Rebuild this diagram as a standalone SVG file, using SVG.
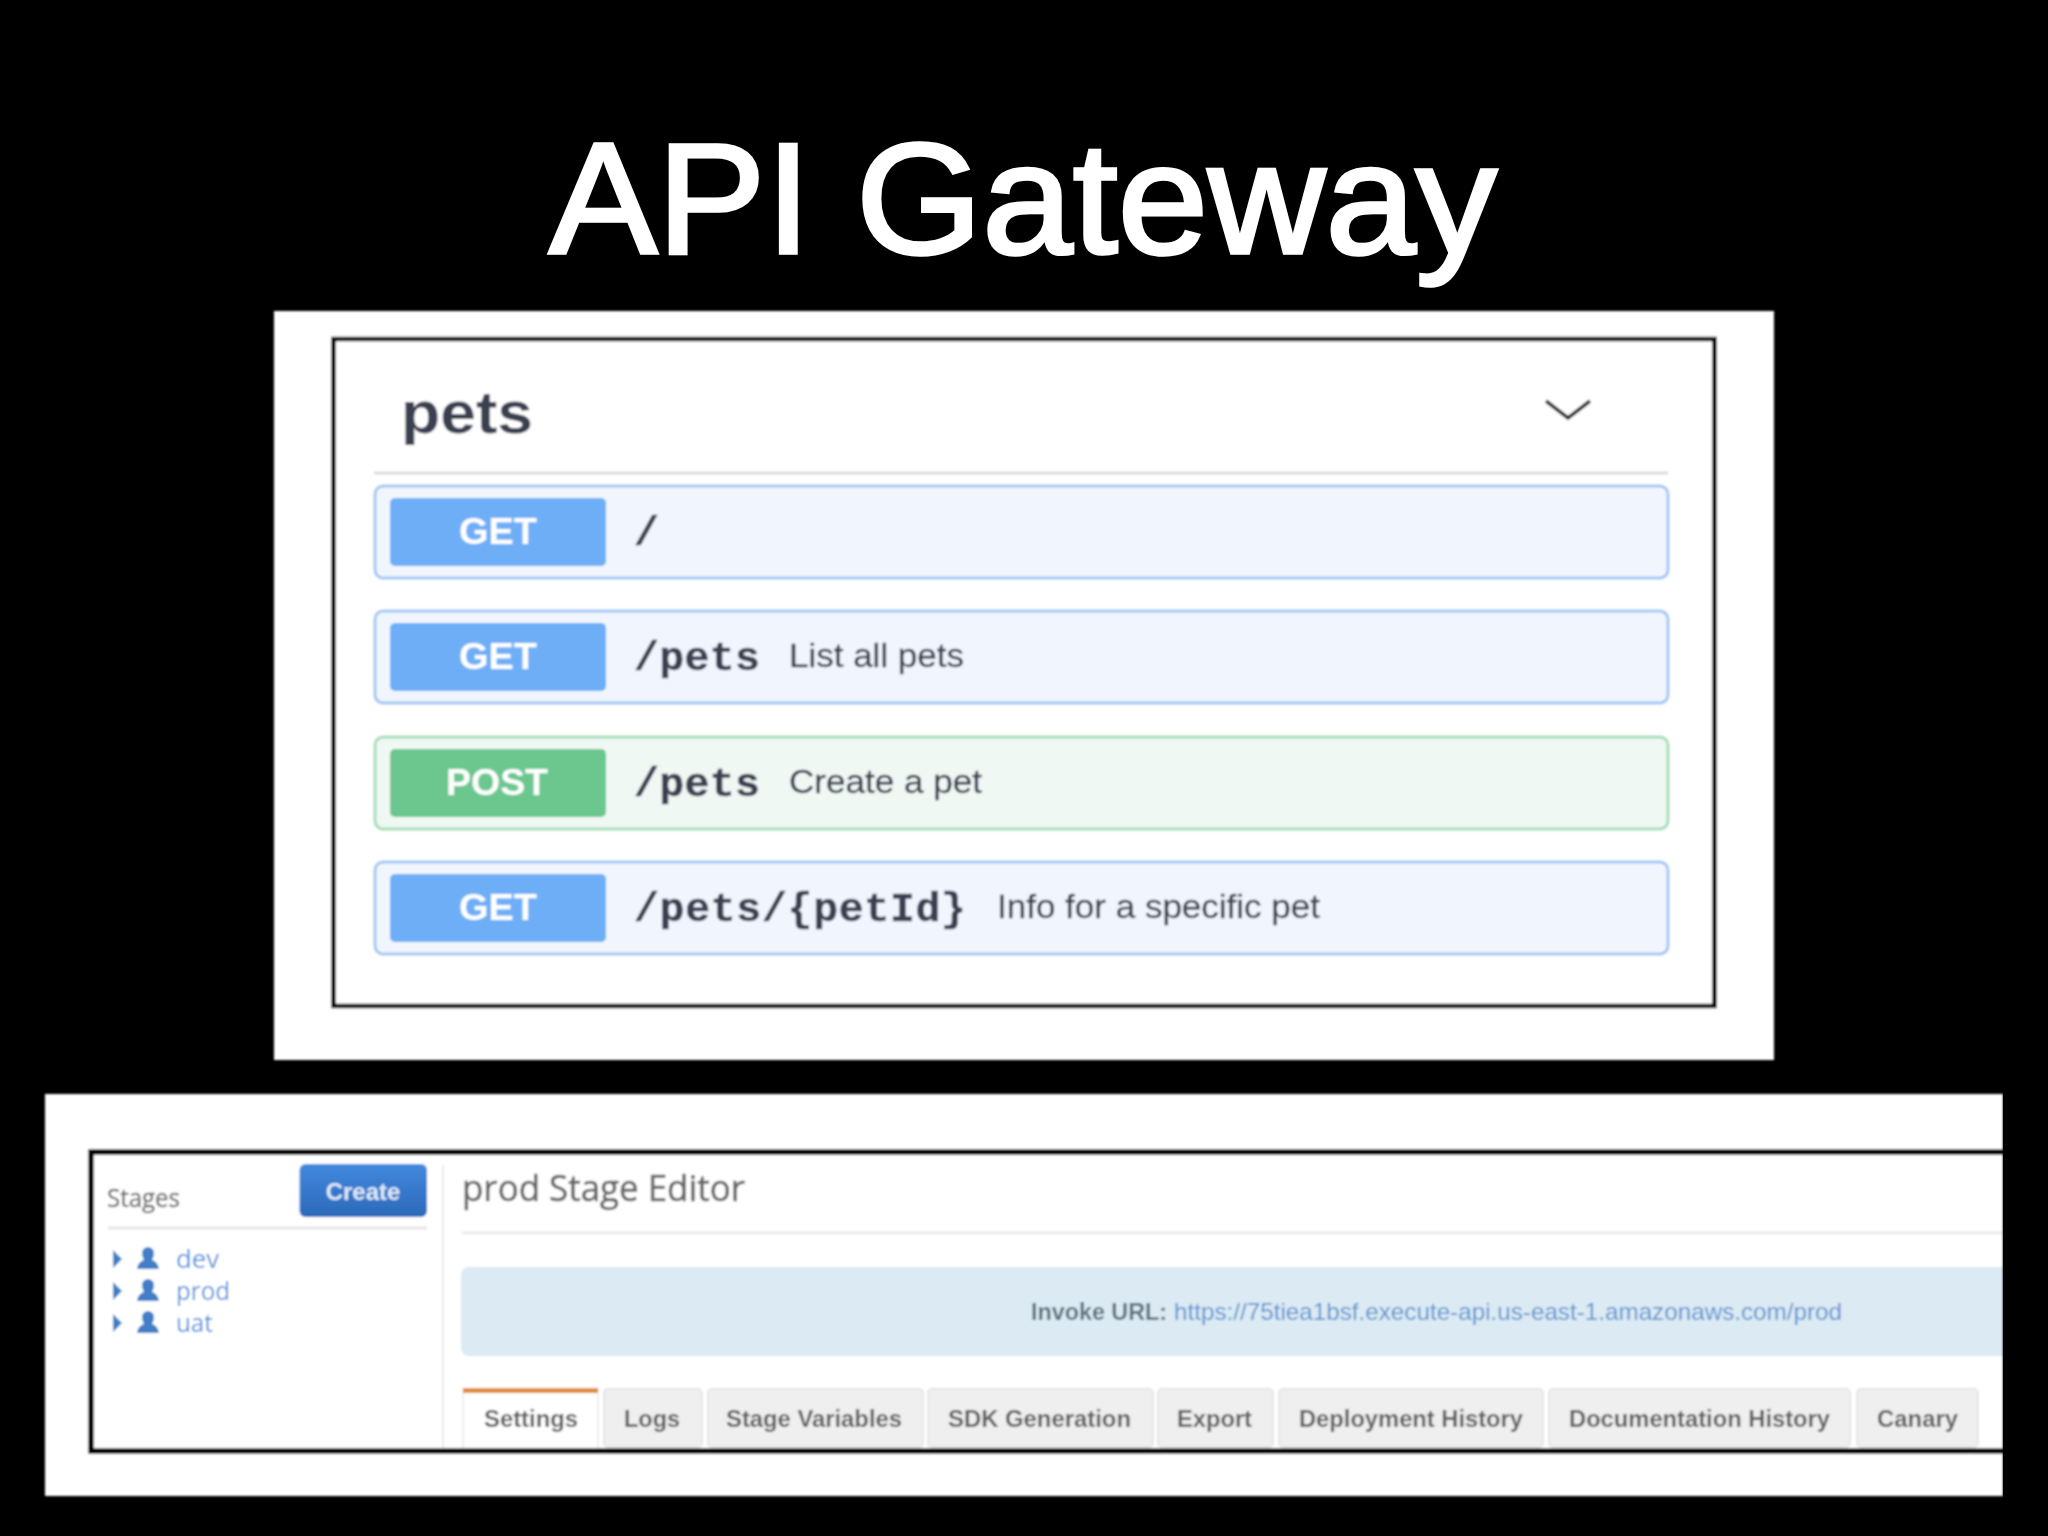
<svg xmlns="http://www.w3.org/2000/svg" width="2048" height="1536" viewBox="0 0 2048 1536">
<style>
.sans{font-family:"Liberation Sans",Arial,sans-serif}
.mono{font-family:"Liberation Mono","Courier New",monospace;font-weight:700;font-size:41.5px;fill:#3b4151;stroke:#3b4151;stroke-width:.6}
.method{font-family:"Liberation Sans",Arial,sans-serif;font-weight:700;font-size:36px;fill:#fff;text-anchor:middle}
.desc{font-family:"Liberation Sans",Arial,sans-serif;font-size:33px;fill:#3b4151;stroke:#3b4151;stroke-width:.3}
.get{fill:#f1f6fe;stroke:#a4c7f3;stroke-width:3}
.post{fill:#f0f8f4;stroke:#a5deba;stroke-width:3}
.tab{fill:#efefef;stroke:#e6e6e6;stroke-width:2}
.tabt{font-family:"Liberation Sans",Arial,sans-serif;font-weight:700;font-size:24px;fill:#5f5f5f}
.tree{font-family:"Open Sans",sans-serif;font-size:25px;fill:#4d8fdc}
.ic{fill:#3f7fc8}
</style>
<defs>
<linearGradient id="btn" x1="0" y1="0" x2="0" y2="1"><stop offset="0" stop-color="#4289de"/><stop offset="1" stop-color="#2b69b9"/></linearGradient>
<filter id="b1" x="-5%" y="-5%" width="110%" height="110%"><feGaussianBlur stdDeviation="0.8"/></filter>
<filter id="b2" x="-5%" y="-5%" width="110%" height="110%"><feGaussianBlur stdDeviation="1.3"/></filter>
</defs>
<rect width="2048" height="1536" fill="#000"/>
<text id="title" class="sans" x="549" y="253" font-size="157" fill="#fff" stroke="#fff" stroke-width="3.500" textLength="948" lengthAdjust="spacingAndGlyphs">API Gateway</text>

<g id="swagger-panel" filter="url(#b1)">
<rect x="274" y="311" width="1500" height="749" fill="#fff"/>
<rect x="333.500" y="339" width="1381" height="667" fill="#fff" stroke="#000" stroke-width="4.500"/>
<text class="sans" x="401" y="433" font-size="60" font-weight="700" fill="#3b4151" textLength="132" lengthAdjust="spacingAndGlyphs">pets</text>
<path d="M1546 401L1568 418L1590 401" fill="none" stroke="#222" stroke-width="3.500"/>
<line x1="374" y1="473" x2="1668" y2="473" stroke="#d4d5d8" stroke-width="2.500"/>
<g id="row-get-root">
<rect class="get" x="375" y="486" width="1293" height="92" rx="8"/>
<rect x="390" y="498" width="216" height="68" rx="5" fill="#6eaef6"/>
<text class="method" x="498" y="544" textLength="78" lengthAdjust="spacingAndGlyphs">GET</text>
<text class="mono" x="634" y="545">/</text>
</g>
<g id="row-get-pets">
<rect class="get" x="375" y="611" width="1293" height="92" rx="8"/>
<rect x="390" y="623" width="216" height="68" rx="5" fill="#6eaef6"/>
<text class="method" x="498" y="669" textLength="78" lengthAdjust="spacingAndGlyphs">GET</text>
<text class="mono" x="634" y="670" textLength="126">/pets</text>
<text class="desc" x="789" y="667" textLength="175" lengthAdjust="spacingAndGlyphs">List all pets</text>
</g>
<g id="row-post-pets">
<rect class="post" x="375" y="737" width="1293" height="92" rx="8"/>
<rect x="390" y="749" width="216" height="68" rx="5" fill="#6cc78f"/>
<text class="method" x="497" y="795" textLength="102" lengthAdjust="spacingAndGlyphs">POST</text>
<text class="mono" x="634" y="796" textLength="126">/pets</text>
<text class="desc" x="789" y="793" textLength="193" lengthAdjust="spacingAndGlyphs">Create a pet</text>
</g>
<g id="row-get-petid">
<rect class="get" x="375" y="862" width="1293" height="92" rx="8"/>
<rect x="390" y="874" width="216" height="68" rx="5" fill="#6eaef6"/>
<text class="method" x="498" y="920" textLength="78" lengthAdjust="spacingAndGlyphs">GET</text>
<text class="mono" x="634" y="921" textLength="332">/pets/{petId}</text>
<text class="desc" x="997" y="918" textLength="323" lengthAdjust="spacingAndGlyphs">Info for a specific pet</text>
</g>
</g>

<g id="stage-panel" filter="url(#b2)">
<rect x="45" y="1094" width="1958" height="402" fill="#fff"/>
<g id="stages-sidebar">
<text x="107" y="1207" font-family="'Open Sans',sans-serif" font-size="26" fill="#707070" stroke="#707070" stroke-width=".4" textLength="73" lengthAdjust="spacingAndGlyphs">Stages</text>
<rect x="299.500" y="1164" width="127.500" height="53" rx="6" fill="url(#btn)"/>
<text class="sans" x="363" y="1200" font-size="24" font-weight="700" fill="#dfeaf7" text-anchor="middle">Create</text>
<line x1="108" y1="1228" x2="427" y2="1228" stroke="#e6e6e6" stroke-width="3"/>
<line x1="443" y1="1165" x2="443" y2="1450" stroke="#ececec" stroke-width="2"/>
<path class="ic" d="M113 1250l9 9l-9 9zM113 1282l9 9l-9 9zM113 1314l9 9l-9 9z"/>
<path class="ic" d="M148 1247a6 6 0 0 1 6 6c0 3-1 5-2 7c3 1 6 3 7 9h-22c1-6 4-8 7-9c-1-2-2-4-2-7a6 6 0 0 1 6-6z"/>
<path class="ic" d="M148 1279a6 6 0 0 1 6 6c0 3-1 5-2 7c3 1 6 3 7 9h-22c1-6 4-8 7-9c-1-2-2-4-2-7a6 6 0 0 1 6-6z"/>
<path class="ic" d="M148 1311a6 6 0 0 1 6 6c0 3-1 5-2 7c3 1 6 3 7 9h-22c1-6 4-8 7-9c-1-2-2-4-2-7a6 6 0 0 1 6-6z"/>
<text class="tree" x="176" y="1268" textLength="43" lengthAdjust="spacingAndGlyphs">dev</text>
<text class="tree" x="176" y="1300" textLength="54" lengthAdjust="spacingAndGlyphs">prod</text>
<text class="tree" x="176" y="1332" textLength="37" lengthAdjust="spacingAndGlyphs">uat</text>
</g>
<text x="462" y="1201" font-family="'Open Sans',sans-serif" font-size="37" fill="#666" stroke="#666" stroke-width=".6" textLength="283" lengthAdjust="spacingAndGlyphs">prod Stage Editor</text>
<line x1="462" y1="1233" x2="2003" y2="1233" stroke="#e6e6e6" stroke-width="2.500"/>
<path d="M2003 1267H469a8 8 0 0 0-8 8V1348a8 8 0 0 0 8 8H2003z" fill="#dbeaf3"/>
<text class="sans" x="1031" y="1320" font-size="24" font-weight="700" fill="#5b6f7c" textLength="136" lengthAdjust="spacingAndGlyphs">Invoke URL:</text>
<text class="sans" x="1174" y="1320" font-size="24" fill="#5d93cf" textLength="668" lengthAdjust="spacingAndGlyphs">https://75tiea1bsf.execute-api.us-east-1.amazonaws.com/prod</text>
<g id="tabs">
<g id="tab-settings"><rect x="463" y="1389" width="135" height="60" fill="#fff" stroke="#eee" stroke-width="2"/><rect x="463" y="1388" width="135" height="5" fill="#e08b36"/><text class="tabt" x="484" y="1427" textLength="94" lengthAdjust="spacingAndGlyphs">Settings</text></g>
<g id="tab-logs"><rect class="tab" x="604" y="1389" width="98" height="58" rx="4"/><text class="tabt" x="624" y="1427" textLength="56" lengthAdjust="spacingAndGlyphs">Logs</text></g>
<g id="tab-vars"><rect class="tab" x="708" y="1389" width="215" height="58" rx="4"/><text class="tabt" x="726" y="1427" textLength="176" lengthAdjust="spacingAndGlyphs">Stage Variables</text></g>
<g id="tab-sdk"><rect class="tab" x="928" y="1389" width="225" height="58" rx="4"/><text class="tabt" x="948" y="1427" textLength="183" lengthAdjust="spacingAndGlyphs">SDK Generation</text></g>
<g id="tab-export"><rect class="tab" x="1158" y="1389" width="115" height="58" rx="4"/><text class="tabt" x="1177" y="1427" textLength="75" lengthAdjust="spacingAndGlyphs">Export</text></g>
<g id="tab-deploy"><rect class="tab" x="1279" y="1389" width="264" height="58" rx="4"/><text class="tabt" x="1299" y="1427" textLength="224" lengthAdjust="spacingAndGlyphs">Deployment History</text></g>
<g id="tab-docs"><rect class="tab" x="1549" y="1389" width="301" height="58" rx="4"/><text class="tabt" x="1569" y="1427" textLength="261" lengthAdjust="spacingAndGlyphs">Documentation History</text></g>
<g id="tab-canary"><rect class="tab" x="1857" y="1389" width="121" height="58" rx="4"/><text class="tabt" x="1877" y="1427" textLength="81" lengthAdjust="spacingAndGlyphs">Canary</text></g>
</g>
<path d="M2003 1152H91V1451H2003" fill="none" stroke="#000" stroke-width="5.500"/>
</g>
<rect x="2003" y="1090" width="45" height="410" fill="#000"/>
</svg>
